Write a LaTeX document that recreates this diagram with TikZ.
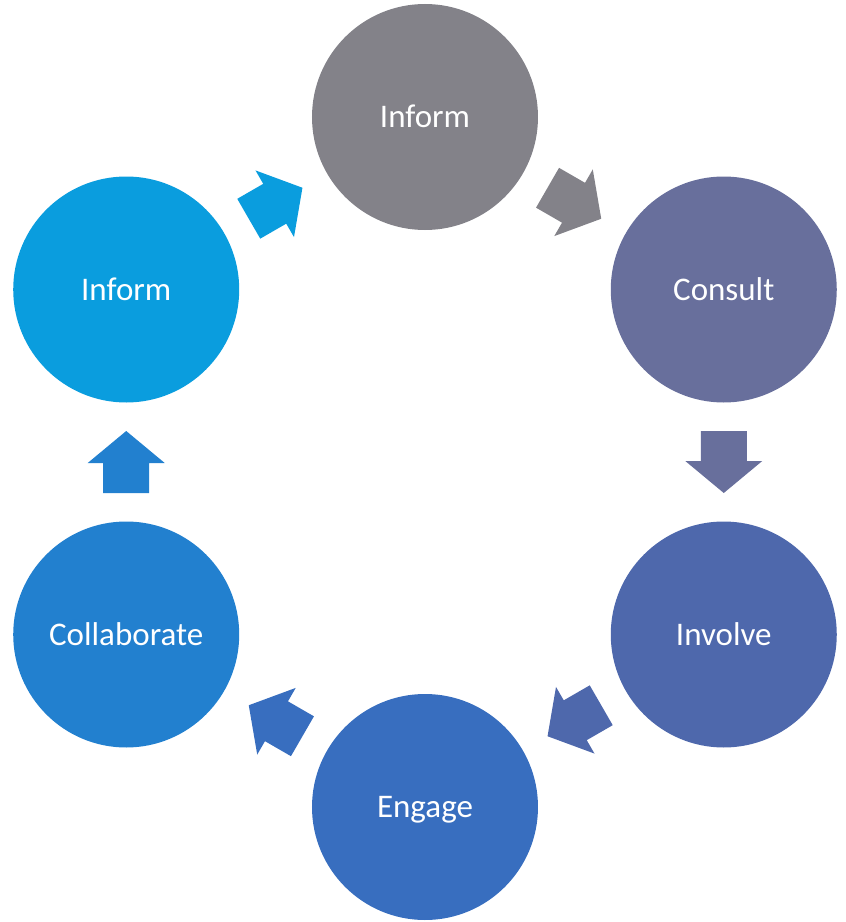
\documentclass[tikz,border=0pt]{standalone}
\usepackage{fontspec}
\setmainfont{Carlito}
\usetikzlibrary{calc}

\definecolor{cInform}{RGB}{131,130,137}
\definecolor{cConsult}{RGB}{104,111,156}
\definecolor{cInvolve}{RGB}{78,104,172}
\definecolor{cEngage}{RGB}{56,110,191}
\definecolor{cCollab}{RGB}{34,128,207}
\definecolor{cInformB}{RGB}{10,157,222}

\tikzset{
  stage/.style={circle, fill=#1, minimum size=226pt, inner sep=0pt,
    text height=21pt, text depth=0pt,
    text=white, font=\fontsize{33}{40}\selectfont}
}

\begin{document}
\begin{tikzpicture}[x=1pt,y=1pt]
  \useasboundingbox (-425,-460) rectangle (421,462);

  % stages round the hexagon
  \node[stage=cInform]  (inform)      at (90:345)  {Inform};
  \node[stage=cConsult] (consult)     at (30:345)  {Consult};
  \node[stage=cInvolve] (involve)     at (-30:345) {Involve};
  \node[stage=cEngage]  (engage)      at (-90:345) {Engage};
  \node[stage=cCollab]  (collaborate) at (210:345) {Collaborate};
  \node[stage=cInformB] (informb)     at (150:345) {Inform};

  % block arrows between stages
  \foreach \s/\t/\ang/\col in {inform/consult/-30/cInform, consult/involve/-90/cConsult,
      involve/engage/-150/cInvolve, engage/collaborate/150/cEngage,
      collaborate/informb/90/cCollab, informb/inform/30/cInformB}
    \fill[\col, shift={($(\s)!0.5!(\t)$)}, rotate=\ang]
      (-31,-23) -- (-1,-23) -- (-1,-38.5) -- (31,0) -- (-1,38.5) -- (-1,23) -- (-31,23) -- cycle;

\end{tikzpicture}
\end{document}
